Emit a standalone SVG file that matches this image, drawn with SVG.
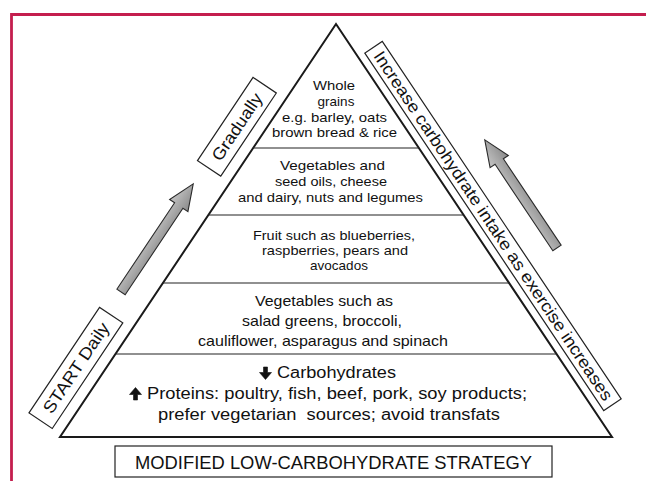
<svg xmlns="http://www.w3.org/2000/svg" width="646" height="481" viewBox="0 0 646 481">
<defs>
<style>
.t{font-family:"Liberation Sans",Arial,Helvetica,sans-serif;fill:#111;text-anchor:middle}
.s135{font-size:13.5px}
.s15{font-size:15px}
.s16{font-size:16px}
.side{font-family:"Liberation Sans",Arial,Helvetica,sans-serif;fill:#111;text-anchor:middle;font-size:17px}
.ar{fill:#111;stroke:#111;stroke-width:0.6;stroke-linejoin:round}
.box{fill:#fff;stroke:#222;stroke-width:1.2}
.div{stroke:#222;stroke-width:1.2}
.garrow{fill:url(#gg);stroke:#2a2a2a;stroke-width:1.1;stroke-linejoin:miter}
</style>
<linearGradient id="gg" x1="0" y1="0" x2="0" y2="1">
<stop offset="0" stop-color="#c4c4c4"/>
<stop offset="1" stop-color="#8a8a8a"/>
</linearGradient>
</defs>
<rect width="646" height="481" fill="#fff"/>
<!-- red frame -->
<path d="M11.5 481 V14.5 H646" fill="none" stroke="#c41e4e" stroke-width="2.8"/>

<!-- pyramid -->
<g id="pyramid">
<polygon points="336,24 60,437 612,437" fill="#fff" stroke="#1a1a1a" stroke-width="2" stroke-linejoin="miter"/>
<line class="div" x1="253" y1="148" x2="419" y2="148"/>
<line class="div" x1="208.4" y1="215" x2="463.6" y2="215"/>
<line class="div" x1="162.9" y1="283" x2="509.1" y2="283"/>
<line class="div" x1="115.5" y1="354" x2="556.5" y2="354"/>
</g>

<g id="layer1">
<text class="t s135" x="334" y="90" textLength="42" lengthAdjust="spacingAndGlyphs">Whole</text>
<text class="t s135" x="336" y="106">grains</text>
<text class="t s135" x="334.5" y="121.5" textLength="105" lengthAdjust="spacingAndGlyphs">e.g. barley, oats</text>
<text class="t s135" x="334.5" y="137" textLength="125" lengthAdjust="spacingAndGlyphs">brown bread &amp; rice</text>
</g>

<g id="layer2">
<text class="t s135" x="332.5" y="169.5" textLength="105" lengthAdjust="spacingAndGlyphs">Vegetables and</text>
<text class="t s135" x="331" y="185.5" textLength="112" lengthAdjust="spacingAndGlyphs">seed oils, cheese</text>
<text class="t s135" x="330.5" y="201.5" textLength="185" lengthAdjust="spacingAndGlyphs">and dairy, nuts and legumes</text>
</g>

<g id="layer3">
<text class="t s135" x="334" y="240" textLength="162" lengthAdjust="spacingAndGlyphs">Fruit such as blueberries,</text>
<text class="t s135" x="335" y="255" textLength="146" lengthAdjust="spacingAndGlyphs">raspberries, pears and</text>
<text class="t s135" x="339" y="270">avocados</text>
</g>

<g id="layer4">
<text class="t s15" x="324" y="306" textLength="138" lengthAdjust="spacingAndGlyphs">Vegetables such as</text>
<text class="t s15" x="322" y="326" textLength="160" lengthAdjust="spacingAndGlyphs">salad greens, broccoli,</text>
<text class="t s15" x="323" y="345.5" textLength="250" lengthAdjust="spacingAndGlyphs">cauliflower, asparagus and spinach</text>
</g>

<g id="layer5">
<polygon class="ar" points="263.5,367 267.5,367 267.5,372.5 271.5,372.5 265.5,379.5 259.5,372.5 263.5,372.5"/>
<text class="t s16" x="336.5" y="377.5" textLength="119" lengthAdjust="spacingAndGlyphs">Carbohydrates</text>
<polygon class="ar" points="135.5,387.5 141.5,394.5 137.5,394.5 137.5,400 133.5,400 133.5,394.5 129.5,394.5"/>
<text class="t s16" x="337" y="399" textLength="380" lengthAdjust="spacingAndGlyphs">Proteins: poultry, fish, beef, pork, soy products;</text>
<text class="t s16" x="329" y="420" textLength="342" lengthAdjust="spacingAndGlyphs" style="white-space:pre">prefer vegetarian  sources; avoid transfats</text>
</g>

<g id="title">
<rect class="box" x="115" y="446" width="437" height="31"/>
<text class="t" style="font-size:19px" x="333.5" y="469" textLength="397" lengthAdjust="spacingAndGlyphs">MODIFIED LOW-CARBOHYDRATE STRATEGY</text>
</g>

<g id="start-daily" transform="translate(75.9,367.9) rotate(-56.25)">
<rect class="box" x="-63.5" y="-14" width="127" height="28"/>
<text class="side" x="0" y="6" textLength="105" lengthAdjust="spacingAndGlyphs">START Daily</text>
</g>

<g id="gradually" transform="translate(236.9,126.8) rotate(-56.25)">
<rect class="box" x="-50" y="-14" width="100" height="28"/>
<text class="side" x="0" y="6" textLength="77" lengthAdjust="spacingAndGlyphs">Gradually</text>
</g>

<g id="increase" transform="translate(493,226) rotate(56.25)">
<rect class="box" x="-215" y="-10.5" width="430" height="21"/>
<text class="side" x="0" y="5.5" textLength="416" lengthAdjust="spacingAndGlyphs">Increase carbohydrate intake as exercise increases</text>
</g>

<g id="connectors">
<polygon class="garrow" transform="translate(121,292) rotate(-56.25)" points="0,-5 104,-5 104,-11 130,0 104,11 104,5 0,5"/>
<polygon class="garrow" transform="translate(557,248) rotate(-123.75)" points="0,-5 104,-5 104,-11 130,0 104,11 104,5 0,5"/>
</g>
</svg>
